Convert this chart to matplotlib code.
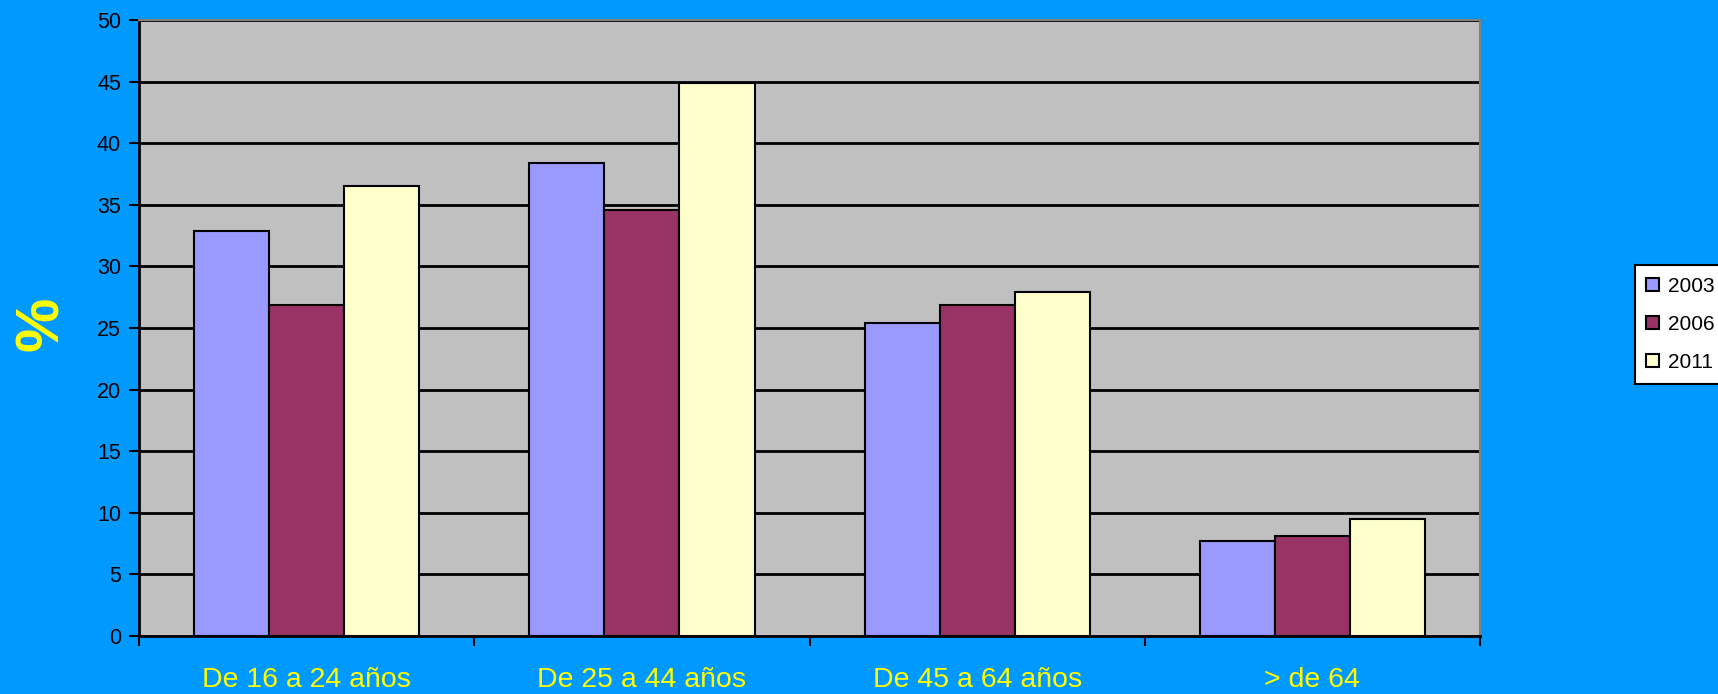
import matplotlib.pyplot as plt
import numpy as np

categories = ['De 16 a 24 años', 'De 25 a 44 años', 'De 45 a 64 años', '> de 64']
years = ['2003', '2006', '2011']
v2003 = [32.9, 38.4, 25.4, 7.7]
v2006 = [26.9, 34.6, 26.9, 8.1]
v2011 = [36.5, 44.9, 27.9, 9.5]
yticks = list(range(0, 51, 5))

bg = '#0099FF'
colors = ['#9999FF', '#993366', '#FFFFCC']

plt.rcParams['font.family'] = ['Liberation Sans', 'DejaVu Sans']

fig = plt.figure(figsize=(17.18, 6.94), dpi=100)
fig.patch.set_facecolor(bg)
ax = fig.add_axes([0.0809, 0.0836, 0.7806, 0.8876])
ax.set_facecolor('#C0C0C0')

x = np.arange(len(categories))
w = 0.224
for i, (vals, col, lab) in enumerate(zip([v2003, v2006, v2011], colors, years)):
    ax.bar(x + (i - 1) * w, vals, width=w, color=col, edgecolor='black',
           linewidth=1.5, label=lab, zorder=3)

ax.set_xlim(-0.5, len(categories) - 0.5)
ax.set_ylim(0, 50)
ax.set_yticks(yticks)
ax.set_yticklabels([str(t) for t in yticks], fontsize=15.5, color='black')
ax.yaxis.grid(True, color='black', linewidth=2, zorder=1)
ax.set_axisbelow(True)

# category labels between boundary ticks
ax.set_xticks(np.arange(-0.5, len(categories), 1.0))
ax.set_xticklabels([])
ax.set_xticks(x, minor=True)
ax.set_xticklabels(categories, minor=True, fontsize=20.5, color='#FFFF00')
ax.tick_params(axis='x', which='minor', length=0, pad=22)
ax.tick_params(axis='x', which='major', length=7, width=1.5, direction='out', color='black')
ax.tick_params(axis='y', length=7, width=1.5, direction='out', color='black', pad=6)

for s in ['top', 'right']:
    ax.spines[s].set_color('#808080')
    ax.spines[s].set_linewidth(1.5)
for s in ['left', 'bottom']:
    ax.spines[s].set_color('black')
    ax.spines[s].set_linewidth(2)

fig.text(0.025, 0.533, '%', rotation=90, fontsize=44, fontweight='bold',
         color='#FFFF00', ha='center', va='center')

leg = fig.legend(loc='center left', bbox_to_anchor=(0.9517, 0.5324), fontsize=15,
                 handlelength=0.6, handleheight=0.6, handletextpad=0.45,
                 labelspacing=0.92, borderpad=0.55, borderaxespad=0,
                 fancybox=False, edgecolor='black', facecolor='white', framealpha=1)
leg.get_frame().set_linewidth(1.5)

fig.savefig('out.png', dpi=100, facecolor=bg)
